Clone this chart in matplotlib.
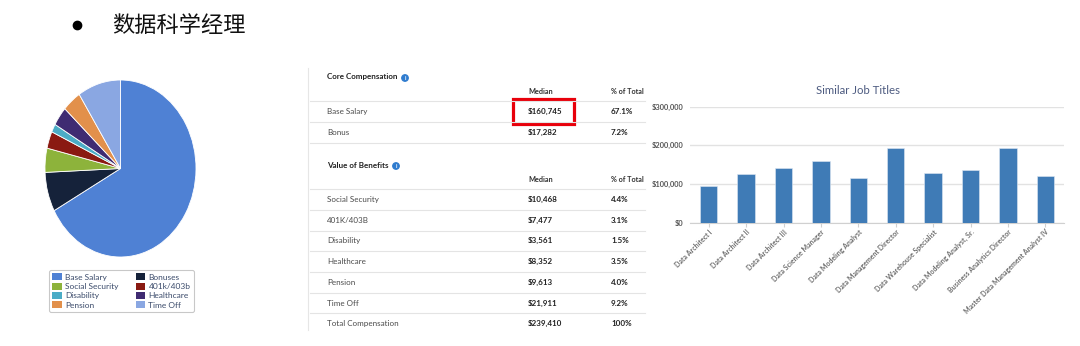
import numpy as np
import matplotlib.pyplot as plt
from matplotlib.patches import Rectangle, Circle, Patch
from matplotlib.ticker import FuncFormatter

plt.rcParams['font.family'] = ['Lato', 'DejaVu Sans']

# data
title_cn = '数据科学经理'

core_labels = ['Base Salary', 'Bonus']
core_median = [160745, 17282]
core_pct = ['67.1%', '7.2%']

benefit_labels = ['Social Security', '401K/403B', 'Disability', 'Healthcare', 'Pension', 'Time Off']
benefit_median = [10468, 7477, 3561, 8352, 9613, 21911]
benefit_pct = ['4.4%', '3.1%', '1.5%', '3.5%', '4.0%', '9.2%']
total_median = 239410

pie_labels = ['Base Salary', 'Bonuses', 'Social Security', '401k/403b',
              'Disability', 'Healthcare', 'Pension', 'Time Off']
pie_values = [67.1, 7.2, 4.4, 3.1, 1.5, 3.5, 4.0, 9.2]
pie_colors = ['#4f81d4', '#15223a', '#8db33b', '#8a1a12',
              '#4bacc6', '#3f2b72', '#e2904b', '#8aa7e2']

jobs = ['Data Architect I', 'Data Architect II', 'Data Architect III',
        'Data Science Manager', 'Data Modeling Analyst', 'Data Management Director',
        'Data Warehouse Specialist', 'Data Modeling Analyst, Sr.',
        'Business Analytics Director', 'Master Data Management Analyst IV']
job_pay = [96000, 126000, 141000, 159000, 116000, 193000, 128000, 137000, 193000, 121000]

W, H = 1080, 346
fig = plt.figure(figsize=(W / 100, H / 100), dpi=100)


def box(x0, y0, x1, y1):
    # pixel box -> figure fraction rect
    return [x0 / W, 1 - y1 / H, (x1 - x0) / W, (y1 - y0) / H]


# background overlay in pixel coordinates
bg = fig.add_axes([0, 0, 1, 1])
bg.set_xlim(0, W)
bg.set_ylim(H, 0)
bg.axis('off')

bg.plot(77, 25, 'o', color='black', ms=6)
bg.text(112, 25, title_cn, fontsize=16, va='center', ha='left',
        family=['Noto Sans CJK SC', 'DejaVu Sans'], color='#111111')

# separator
bg.plot([308, 308], [68, 330], color='#e6e6e6', lw=0.8)

# table
txt = dict(fontsize=5.8, color='#4a4a4a', va='center')
hdr = dict(fontsize=5.2, color='#333333', va='center', fontweight='bold')
valk = dict(fontsize=5.8, color='#222222', va='center', fontweight='bold')
lx, mx, px = 327, 528, 611


def info(x, y):
    bg.add_patch(Circle((x, y), 3.2, color='#2f7ccf'))
    bg.text(x, y + 0.3, 'i', fontsize=4, color='white', ha='center', va='center', fontweight='bold')


def rule(y):
    bg.plot([310, 645], [y, y], color='#e4e4e4', lw=0.8)


bg.text(lx, 77, 'Core Compensation', fontsize=5.8, fontweight='bold', color='#222222', va='center')
info(405, 78)
bg.text(mx, 92, 'Median', **hdr)
bg.text(px, 92, '% of Total', **hdr)
rule(101)
for i, (lab, med, pct) in enumerate(zip(core_labels, core_median, core_pct)):
    y = 111.5 + i * 20.7
    bg.text(lx, y, lab, **txt)
    bg.text(mx, y, f'${med:,}', **valk)
    bg.text(px, y, pct, **valk)
    rule(y + 10.5)

bg.add_patch(Rectangle((512.5, 98.5), 61.5, 25, fill=False, edgecolor='#e8000b', lw=2.3))

bg.text(lx, 165, 'Value of Benefits', fontsize=5.8, fontweight='bold', color='#222222', va='center')
info(396, 166)
bg.text(mx, 179, 'Median', **hdr)
bg.text(px, 179, '% of Total', **hdr)
rule(189)
for i, (lab, med, pct) in enumerate(zip(benefit_labels, benefit_median, benefit_pct)):
    y = 199.5 + i * 20.7
    bg.text(lx, y, lab, **txt)
    bg.text(mx, y, f'${med:,}', **valk)
    bg.text(px, y, pct, **valk)
    rule(y + 10.4)
bg.text(lx, 323.5, 'Total Compensation', **txt)
bg.text(mx, 323.5, f'${total_median:,}', **valk)
bg.text(px, 323.5, '100%', **valk)

# pie
pax = fig.add_axes(box(45, 80, 196, 257))
pax.pie(pie_values, colors=pie_colors, startangle=90, counterclock=False,
        wedgeprops=dict(edgecolor='white', linewidth=0.6))
pax.set_aspect('auto')
pax.set_xlim(-1, 1)
pax.set_ylim(-1, 1)

order = [0, 2, 4, 6, 1, 3, 5, 7]
handles = [Patch(facecolor=pie_colors[i], label=pie_labels[i]) for i in order]
leg = fig.legend(handles=handles, ncol=2, loc='center',
                 bbox_to_anchor=(121.5 / W, 1 - 291 / H), fontsize=6,
                 frameon=True, fancybox=True, edgecolor='#bbbbbb',
                 handlelength=1.1, handleheight=0.9, handletextpad=0.45,
                 labelspacing=0.25, columnspacing=2.0, borderpad=0.4)
leg.get_frame().set_linewidth(0.8)
for t in leg.get_texts():
    t.set_color('#3a4a6a')

# bar chart
bax = fig.add_axes(box(690, 106.7, 1064, 222.7))
x = np.arange(len(jobs))
bax.bar(x, job_pay, width=0.47, color='#3f7bb6', edgecolor='#dfe8f3', linewidth=0.4, zorder=3)
bax.set_xlim(-0.5, len(jobs) - 0.5)
bax.set_ylim(0, 300000)
bax.set_yticks([0, 100000, 200000, 300000])
bax.yaxis.set_major_formatter(FuncFormatter(lambda v, p: f'${int(v):,}'))
bax.grid(axis='y', color='#e2e2e2', lw=1, zorder=0)
for s in ['top', 'right', 'left']:
    bax.spines[s].set_visible(False)
bax.spines['bottom'].set_color('#d0d0d0')
bax.tick_params(axis='y', length=0, pad=5, labelsize=5.4, labelcolor='#555555')
bax.tick_params(axis='x', length=3, color='#d0d0d0', pad=1, labelsize=5, labelcolor='#707070')
bax.set_xticks(x)
bax.set_xticklabels(jobs, rotation=45, ha='right', rotation_mode='anchor', fontweight='bold')
for t in bax.get_yticklabels():
    t.set_fontweight('bold')
bax.set_title('Similar Job Titles', fontsize=8.2, color='#4d5b80', pad=9, x=0.45)

fig.savefig('out.png', dpi=100, facecolor='white')
